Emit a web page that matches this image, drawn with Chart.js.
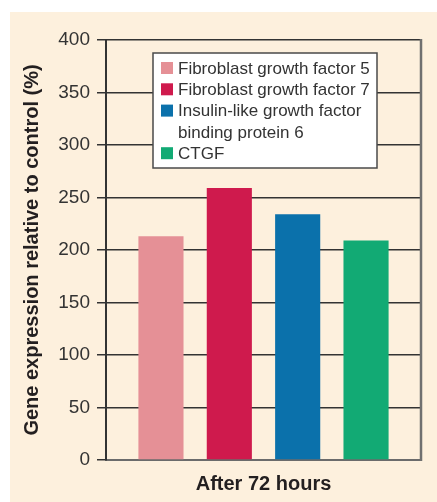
<!DOCTYPE html>
<html>
<head>
<meta charset="utf-8">
<script src="https://cdn.jsdelivr.net/npm/chart.js@4/dist/chart.umd.min.js"></script>
<style>
  body { margin: 0; background: #ffffff; }
  #panel { position: absolute; left: 10px; top: 12px; width: 427px; height: 490px; background: #fdf0dd; }
</style>
</head>
<body>
<div id="panel"><canvas id="geneChart" width="427" height="490"></canvas></div>
<script>
// data //////////////////////////////////////////////////////////////
var categories = ['After 72 hours'];
var seriesNames = [
	['Fibroblast growth factor 5'],
	['Fibroblast growth factor 7'],
	['Insulin-like growth factor', 'binding protein 6'],
	['CTGF']
];
var seriesValues = [213, 259, 234, 209];
var seriesColors = ['#e59096', '#cf1a4d', '#0b71ab', '#12aa74'];
var yTicks = [0, 50, 100, 150, 200, 250, 300, 350, 400];

var fontFamily = '"Liberation Sans", Arial, sans-serif';

// legend box drawn inside the plot area
var legendBox = {
	id: 'legendBox',
	afterDatasetsDraw: function(chart) {
		var ctx = chart.ctx;
		var x = 143, y = 41, w = 224, h = 115;
		ctx.save();
		// right frame of the plot
		ctx.strokeStyle = '#707070';
		ctx.lineWidth = 2.5;
		ctx.beginPath();
		ctx.moveTo(chart.chartArea.right, chart.chartArea.top - 1);
		ctx.lineTo(chart.chartArea.right, chart.chartArea.bottom + 1);
		ctx.stroke();

		ctx.fillStyle = '#ffffff';
		ctx.fillRect(x, y, w, h);
		ctx.strokeStyle = '#4a4a4a';
		ctx.lineWidth = 1.5;
		ctx.strokeRect(x, y, w, h);

		ctx.font = '17px ' + fontFamily;
		ctx.textBaseline = 'middle';
		ctx.textAlign = 'left';
		var rowY = y + 15;
		chart.data.datasets.forEach(function(ds, i) {
			ctx.fillStyle = ds.backgroundColor;
			ctx.fillRect(x + 8, rowY - 6, 12, 12);
			ctx.fillStyle = '#333333';
			seriesNames[i].forEach(function(line) {
				ctx.fillText(line, x + 25, rowY + 1);
				rowY += 21.3;
			});
		});
		ctx.restore();
	}
};

var geneCtx = document.getElementById('geneChart').getContext('2d');
var geneChart = new Chart(geneCtx, {
	type: 'bar',
	data: {
		labels: categories,
		datasets: seriesValues.map(function(v, i) {
			return {
				label: seriesNames[i].join(' '),
				data: [v],
				backgroundColor: seriesColors[i],
				borderWidth: 0
			};
		})
	},
	options: {
		responsive: false,
		animation: false,
		categoryPercentage: 0.868,
		barPercentage: 0.66,
		layout: { padding: { top: 28, right: 16, left: 0, bottom: 0 } },
		plugins: {
			legend: { display: false },
			tooltip: { enabled: false }
		},
		scales: {
			x: {
				grid: { display: false, drawTicks: false },
				border: { color: '#6b6b6b', width: 2 },
				ticks: {
					padding: 12,
					color: '#231f20',
					font: { family: fontFamily, size: 20, weight: 'bold' }
				},
				afterFit: function(scale) { scale.height = 42; }
			},
			y: {
				min: 0,
				max: 400,
				afterBuildTicks: function(scale) {
					scale.ticks = yTicks.map(function(v) { return { value: v }; });
				},
				grid: { color: '#333333', lineWidth: 1.5, tickLength: 9 },
				border: { color: '#333333', width: 2 },
				ticks: {
					padding: 7,
					color: '#333333',
					font: { family: fontFamily, size: 19 }
				},
				title: {
					display: true,
					text: 'Gene expression relative to control (%)',
					color: '#231f20',
					font: { family: fontFamily, size: 20, weight: 'bold' },
					padding: { top: 10, bottom: 0 }
				},
				afterFit: function(scale) { scale.width = 96; }
			}
		}
	},
	plugins: [legendBox]
});
</script>
</body>
</html>
